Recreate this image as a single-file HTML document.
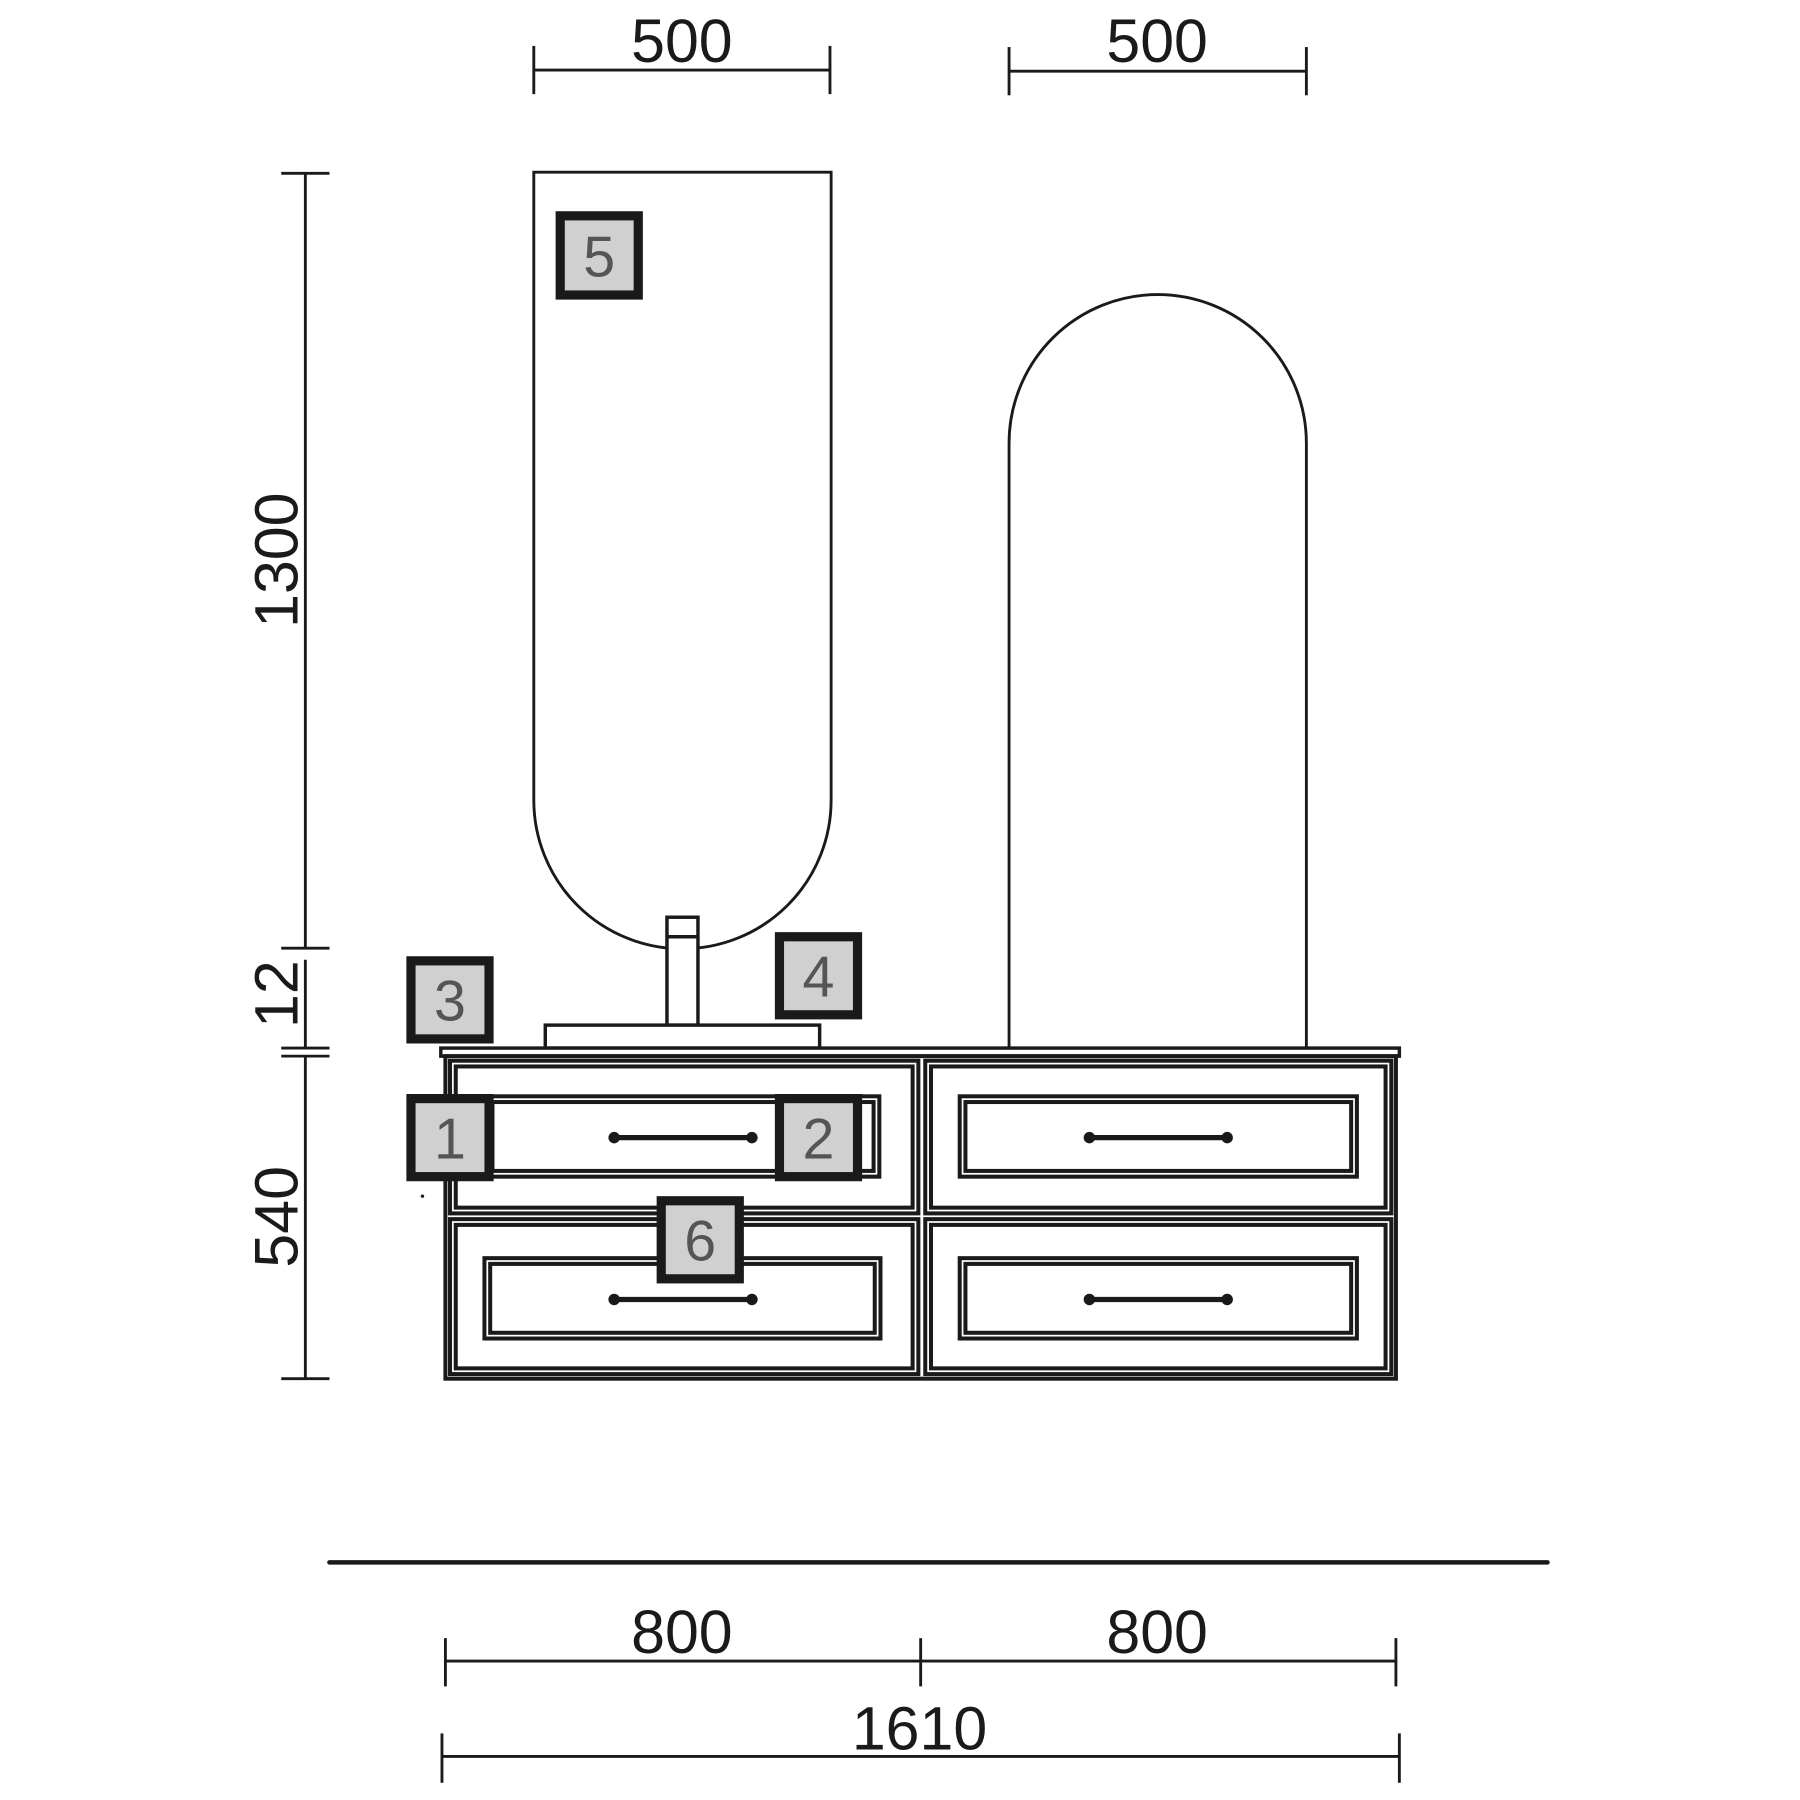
<!DOCTYPE html>
<html><head><meta charset="utf-8"><style>
html,body{margin:0;padding:0;background:#fff;}
svg{display:block;}
text{font-family:"Liberation Sans",sans-serif;fill:#1a1a1a;}
.b text{fill:#555;font-size:50px;}
</style></head><body>
<svg width="1800" height="1800" viewBox="0 0 1568 1568" xmlns="http://www.w3.org/2000/svg">
<g stroke="#1a1a1a" stroke-width="2.5" fill="none">
<line x1="465" y1="61" x2="723" y2="61"/><line x1="465" y1="40" x2="465" y2="82"/><line x1="723" y1="40" x2="723" y2="82"/>
<line x1="879" y1="62" x2="1138" y2="62"/><line x1="879" y1="41" x2="879" y2="83"/><line x1="1138" y1="41" x2="1138" y2="83"/>
<line x1="266" y1="151" x2="266" y2="826"/><line x1="266" y1="836" x2="266" y2="913"/><line x1="266" y1="920" x2="266" y2="1201"/>
<line x1="245" y1="151" x2="287" y2="151"/><line x1="245" y1="826" x2="287" y2="826"/>
<line x1="245" y1="913" x2="287" y2="913"/><line x1="245" y1="920" x2="287" y2="920"/><line x1="245" y1="1201" x2="287" y2="1201"/>
<path d="M465 697 L465 150 L724 150 L724 697 A129.5 129.5 0 0 1 465 697 Z"/>
<path d="M879 913 L879 386 A129.5 129.5 0 0 1 1138 386 L1138 913"/>
<rect x="581" y="799" width="27" height="94" fill="#fff" stroke-width="3"/><line x1="581" y1="816" x2="608" y2="816" stroke-width="3"/>
<rect x="475" y="893" width="239" height="20" fill="#fff" stroke-width="3"/>
<rect x="384" y="913" width="835" height="7" fill="#fff" stroke-width="3"/>
<g stroke-width="3.5">
<rect x="388" y="920" width="828" height="281"/>
<rect x="392" y="924" width="408" height="133"/><rect x="397" y="929" width="398" height="123"/>
<rect x="806" y="924" width="406" height="133"/><rect x="811" y="929" width="396" height="123"/>
<rect x="392" y="1062" width="408" height="135"/><rect x="397" y="1067" width="398" height="125"/>
<rect x="806" y="1062" width="406" height="135"/><rect x="811" y="1067" width="396" height="125"/>
<rect x="424" y="955" width="342" height="70"/><rect x="429" y="960" width="332" height="60"/>
<rect x="836" y="955" width="346" height="70"/><rect x="841" y="960" width="336" height="60"/>
<rect x="422" y="1096" width="345" height="70"/><rect x="427" y="1101" width="335" height="60"/>
<rect x="836" y="1096" width="346" height="70"/><rect x="841" y="1101" width="336" height="60"/>
</g>
<g stroke-width="4.5">
<line x1="535" y1="991" x2="655" y2="991"/><line x1="949" y1="991" x2="1069" y2="991"/>
<line x1="535" y1="1132" x2="655" y2="1132"/><line x1="949" y1="1132" x2="1069" y2="1132"/>
</g>
<line x1="287" y1="1361" x2="1348" y2="1361" stroke-width="4" stroke-linecap="round"/>
<line x1="388" y1="1447" x2="1216" y2="1447"/>
<line x1="388" y1="1427" x2="388" y2="1469"/><line x1="802" y1="1427" x2="802" y2="1469"/><line x1="1216" y1="1427" x2="1216" y2="1469"/>
<line x1="385" y1="1530" x2="1219" y2="1530"/>
<line x1="385" y1="1510" x2="385" y2="1553"/><line x1="1219" y1="1510" x2="1219" y2="1553"/>
</g>
<g fill="#1a1a1a">
<circle cx="535" cy="991" r="5"/><circle cx="655" cy="991" r="5"/><circle cx="949" cy="991" r="5"/><circle cx="1069" cy="991" r="5"/>
<circle cx="535" cy="1132" r="5"/><circle cx="655" cy="1132" r="5"/><circle cx="949" cy="1132" r="5"/><circle cx="1069" cy="1132" r="5"/>
<circle cx="368" cy="1042" r="1.5"/>
</g>
<g font-size="53" text-anchor="middle">
<text x="594" y="54">500</text><text x="1008" y="54">500</text>
<text x="594" y="1440">800</text><text x="1008" y="1440">800</text>
<text x="801" y="1524">1610</text>
<text transform="translate(259,488) rotate(-90)">1300</text>
<text transform="translate(259,866) rotate(-90)">12</text>
<text transform="translate(259,1060) rotate(-90)">540</text>
</g>
<g class="b" text-anchor="middle">
<g><rect x="488" y="188" width="68" height="69" fill="#d0d0d0" stroke="#1a1a1a" stroke-width="8"/><text x="522" y="241">5</text></g>
<g><rect x="358" y="837" width="68" height="68" fill="#d0d0d0" stroke="#1a1a1a" stroke-width="8"/><text x="392" y="889">3</text></g>
<g><rect x="679" y="816" width="68" height="68" fill="#d0d0d0" stroke="#1a1a1a" stroke-width="8"/><text x="713" y="868">4</text></g>
<g><rect x="358" y="957" width="68" height="68" fill="#d0d0d0" stroke="#1a1a1a" stroke-width="8"/><text x="392" y="1009">1</text></g>
<g><rect x="679" y="957" width="68" height="68" fill="#d0d0d0" stroke="#1a1a1a" stroke-width="8"/><text x="713" y="1009">2</text></g>
<g><rect x="576" y="1046" width="68" height="68" fill="#d0d0d0" stroke="#1a1a1a" stroke-width="8"/><text x="610" y="1098">6</text></g>
</g>
</svg>
</body></html>
